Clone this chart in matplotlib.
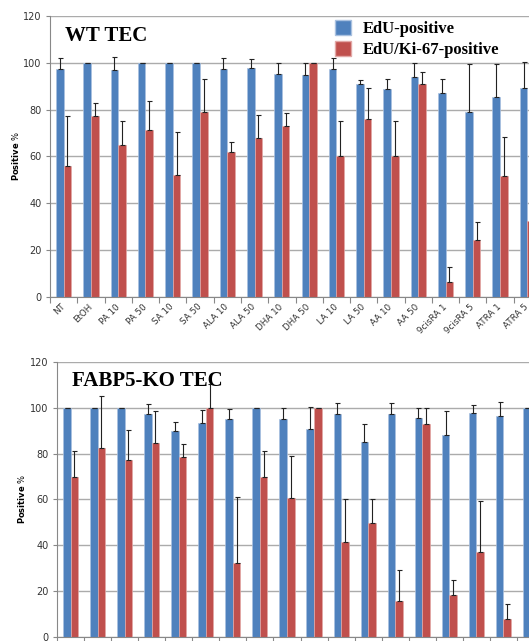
import numpy as np
import matplotlib
matplotlib.use('Agg')
import matplotlib.pyplot as plt
from matplotlib.patches import Patch

# treatment groups (shared by both panels)
cats = ['NT', 'EtOH', 'PA 10', 'PA 50', 'SA 10', 'SA 50', 'ALA 10', 'ALA 50',
        'DHA 10', 'DHA 50', 'LA 10', 'LA 50', 'AA 10', 'AA 50',
        '9cisRA 1', '9cisRA 5', 'ATRA 1', 'ATRA 5']

# WT TEC
wt_edu = [97.4, 100, 97.1, 100, 100, 100, 97.4, 97.8, 95.1, 94.8, 97.4, 91.1,
          88.7, 94.1, 87.0, 78.9, 85.3, 89.2]
wt_edu_err = [4.8, 0, 5.4, 0, 0, 0, 4.8, 4.0, 4.7, 5.0, 4.8, 1.4,
              4.5, 5.7, 6.2, 20.5, 14.1, 11.3]
wt_ki67 = [55.8, 77.3, 65.0, 71.2, 52.1, 79.0, 61.9, 68.0, 72.9, 100, 60.2, 76.1,
           60.2, 90.8, 6.5, 24.3, 51.8, 32.6]
wt_ki67_err = [21.6, 5.7, 10.3, 12.4, 18.4, 14.0, 4.4, 9.7, 5.5, 0, 15.1, 13.1,
               15.1, 5.1, 6.4, 7.6, 16.4, 10.2]

# FABP5-KO TEC
ko_edu = [100, 100, 100, 97.1, 89.8, 93.3, 94.9, 100, 95.1, 90.7, 97.1, 85.2,
          97.1, 95.4, 88.0, 97.8, 96.2, 100]
ko_edu_err = [0, 0, 0, 4.6, 4.1, 5.8, 4.4, 0, 4.6, 9.4, 4.8, 7.5,
              4.8, 4.3, 10.4, 3.5, 6.4, 0]
ko_ki67 = [69.7, 82.3, 77.4, 84.8, 78.3, 100, 32.4, 69.7, 60.5, 100, 41.4, 49.9,
           15.7, 92.7, 18.4, 37.0, 7.8, 22.6]
ko_ki67_err = [11.6, 22.6, 12.7, 13.9, 6.0, 10.5, 28.5, 11.6, 18.5, 0, 19.0, 10.2,
               13.6, 7.0, 6.4, 22.5, 6.9, 8.0]

BLUE = '#4F81BD'
RED = '#C0504D'
GRID = '#ABABAB'
W = 0.28

fig = plt.figure(figsize=(5.29, 6.41), dpi=100)
ax1 = fig.add_axes([50/529, 1 - 297/641, 491/529, 281/641])
ax2 = fig.add_axes([57/529, 1 - 637.3/641, 487/529, 275.6/641])


def draw_panel(ax, edu, edu_err, ki, ki_err, title, ylabpad, show_names=True):
    x = np.arange(len(cats))
    ax.set_axisbelow(True)
    ax.yaxis.grid(True, color=GRID, linewidth=1.0)
    ax.bar(x - W/2, edu, W, color=BLUE, edgecolor='#A9C1E0', linewidth=0.5,
           yerr=[np.zeros(len(edu)), edu_err], capsize=1.8,
           error_kw=dict(ecolor='#222222', elinewidth=0.8, capthick=0.8))
    ax.bar(x + W/2, ki, W, color=RED, edgecolor='#E2A8A6', linewidth=0.5,
           yerr=[np.zeros(len(ki)), ki_err], capsize=1.8,
           error_kw=dict(ecolor='#222222', elinewidth=0.8, capthick=0.8))
    ax.set_xlim(-0.5, len(cats) - 0.5)
    ax.set_ylim(0, 120)
    ax.set_yticks(np.arange(0, 121, 20))
    ax.tick_params(axis='y', labelsize=7, labelcolor='#333333', color='#888888',
                   length=3, width=0.8, pad=3)
    # boundary ticks between groups, labels at group centres
    ax.set_xticks(np.arange(-0.5, len(cats), 1.0))
    ax.set_xticklabels([])
    if show_names:
        ax.set_xticks(x, minor=True)
        ax.set_xticklabels(cats, minor=True, rotation=45, ha='right', va='center',
                           rotation_mode='anchor', fontsize=6.3, color='#333333')
    ax.tick_params(axis='x', which='major', color='#888888', length=4, width=0.8)
    ax.tick_params(axis='x', which='minor', length=0, pad=6)
    for s in ['top', 'right']:
        ax.spines[s].set_visible(False)
    for s in ['left', 'bottom']:
        ax.spines[s].set_color('#888888')
        ax.spines[s].set_linewidth(0.8)
    ax.set_ylabel(r'$\bf{Positive}$ %', fontsize=6, labelpad=ylabpad)
    ax.text(0.03, 0.965, title, transform=ax.transAxes, ha='left', va='top',
            fontsize=15, fontweight='bold', family='Liberation Serif')


draw_panel(ax1, wt_edu, wt_edu_err, wt_ki67, wt_ki67_err, 'WT TEC', 1.5)
# lower panel's group names sit below the bottom edge of the figure
draw_panel(ax2, ko_edu, ko_edu_err, ko_ki67, ko_ki67_err, 'FABP5-KO TEC', 2,
           show_names=False)

handles = [Patch(facecolor=BLUE, edgecolor='#A9C1E0'),
           Patch(facecolor=RED, edgecolor='#E2A8A6')]
ax1.legend(handles, ['EdU-positive', 'EdU/Ki-67-positive'],
           loc='upper left', bbox_to_anchor=(323/529, 1 - 8/641),
           bbox_transform=fig.transFigure, frameon=False,
           prop=dict(family='Liberation Serif', weight='bold', size=12),
           handlelength=1.0, handleheight=1.0, handletextpad=0.7,
           labelspacing=0.25, borderpad=0.2)

fig.savefig('out.png', dpi=100)
